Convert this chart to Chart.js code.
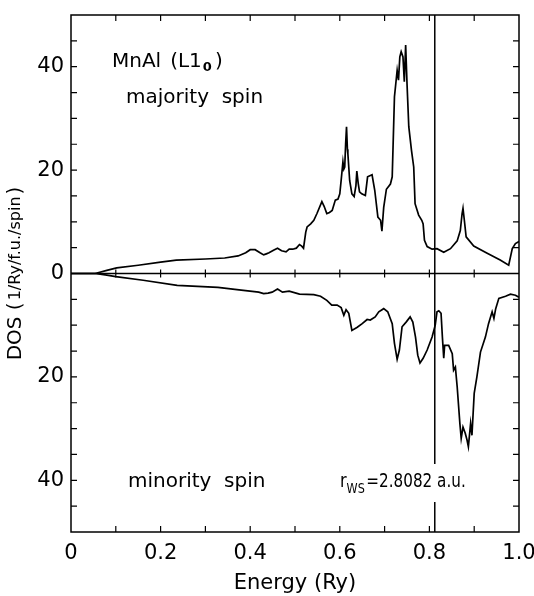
<!DOCTYPE html>
<html>
<head>
<meta charset="utf-8">
<script src="https://cdn.jsdelivr.net/npm/chart.js@4.4.1/dist/chart.umd.min.js"></script>
<style>
  html, body { margin: 0; padding: 0; background: #fff; }
  #wrap { width: 534px; height: 596px; }
</style>
</head>
<body>
<div id="wrap"><canvas id="dosChart" width="534" height="596"></canvas></div>
<script>
// Majority spin DOS
const energyMaj = [0, 0.054, 0.08, 0.102, 0.15, 0.2, 0.235, 0.3, 0.343, 0.373, 0.39, 0.4, 0.411, 0.422, 0.43, 0.436, 0.442, 0.452, 0.461, 0.47, 0.48, 0.487, 0.495, 0.503, 0.51, 0.515, 0.519, 0.524, 0.527, 0.535, 0.542, 0.549, 0.56, 0.565, 0.571, 0.577, 0.583, 0.59, 0.596, 0.6, 0.603, 0.607, 0.609, 0.611, 0.613, 0.615, 0.617, 0.618, 0.622, 0.627, 0.632, 0.636, 0.638, 0.641, 0.644, 0.649, 0.657, 0.662, 0.672, 0.678, 0.685, 0.691, 0.694, 0.698, 0.704, 0.713, 0.717, 0.722, 0.728, 0.731, 0.734, 0.737, 0.741, 0.744, 0.747, 0.75, 0.754, 0.76, 0.765, 0.768, 0.776, 0.783, 0.786, 0.789, 0.795, 0.806, 0.817, 0.832, 0.847, 0.862, 0.869, 0.873, 0.875, 0.878, 0.882, 0.899, 0.929, 0.958, 0.977, 0.985, 0.992, 1.0];
const dosMaj = [0, 0, 0.6, 1.1, 1.6, 2.2, 2.6, 2.8, 3.0, 3.4, 4.0, 4.6, 4.6, 4.0, 3.6, 3.8, 4.0, 4.5, 4.9, 4.4, 4.2, 4.7, 4.7, 4.9, 5.6, 5.3, 4.9, 8.0, 9.0, 9.6, 10.3, 11.6, 13.9, 13.0, 11.6, 11.8, 12.2, 14.2, 14.4, 15.4, 18.0, 21.6, 20.2, 20.6, 25.0, 28.4, 24.0, 23.2, 18.0, 15.4, 14.9, 17.0, 19.8, 17.5, 15.8, 15.4, 15.1, 18.7, 19.1, 16.1, 10.9, 10.3, 8.2, 12.8, 16.3, 17.3, 18.7, 34.2, 39.3, 37.4, 41.9, 42.9, 41.9, 37.1, 44.2, 36.8, 28.4, 23.8, 20.6, 13.5, 11.3, 10.3, 9.6, 6.4, 5.2, 4.7, 4.8, 4.1, 4.8, 6.3, 8.3, 11.6, 12.6, 10.3, 7.1, 5.3, 3.9, 2.6, 1.6, 4.8, 5.8, 6.2];

// Minority spin DOS (magnitude, drawn downwards)
const energyMin = [0, 0.054, 0.08, 0.1, 0.161, 0.237, 0.328, 0.38, 0.419, 0.43, 0.44, 0.449, 0.461, 0.472, 0.487, 0.51, 0.542, 0.557, 0.571, 0.582, 0.594, 0.603, 0.609, 0.614, 0.62, 0.627, 0.639, 0.65, 0.661, 0.668, 0.679, 0.687, 0.698, 0.707, 0.717, 0.722, 0.728, 0.733, 0.739, 0.748, 0.757, 0.763, 0.769, 0.774, 0.779, 0.786, 0.795, 0.806, 0.813, 0.817, 0.821, 0.826, 0.829, 0.832, 0.834, 0.843, 0.851, 0.854, 0.858, 0.862, 0.868, 0.871, 0.875, 0.88, 0.884, 0.887, 0.892, 0.895, 0.9, 0.906, 0.914, 0.925, 0.932, 0.94, 0.944, 0.948, 0.955, 0.97, 0.981, 0.992, 1.0];
const dosMin = [0, 0, 0.3, 0.6, 1.3, 2.3, 2.7, 3.2, 3.6, 3.9, 3.8, 3.6, 3.0, 3.6, 3.4, 4.0, 4.1, 4.4, 5.2, 6.1, 6.1, 6.6, 8.1, 7.0, 7.7, 11.0, 10.4, 9.7, 8.9, 9.0, 8.4, 7.4, 6.8, 7.4, 9.7, 13.5, 16.6, 14.8, 10.3, 9.4, 8.4, 9.4, 12.3, 15.8, 17.3, 16.4, 14.8, 12.3, 10.0, 7.4, 7.2, 7.7, 12.3, 16.4, 13.9, 13.9, 15.5, 18.7, 18.1, 21.9, 29.0, 31.9, 29.7, 30.9, 32.2, 33.5, 29.0, 31.3, 23.2, 20.0, 15.2, 12.3, 9.7, 7.4, 8.7, 6.8, 4.8, 4.4, 4.0, 4.2, 4.6];

const fermiEnergy = 0.812;
const xTickLabels = ['0', '0.2', '0.4', '0.6', '0.8', '1.0'];
const yLabelValues = [0, 20, 40];

const FONT = 'DejaVu Sans';

function toPoints(xs, ys, sign) {
  return xs.map((x, i) => ({ x: x, y: sign * ys[i] }));
}

// Frame, inward ticks, zero line and the text labels
const decorPlugin = {
  id: 'decor',
  afterDatasetsDraw(chart) {
    const ctx = chart.ctx;
    const xs = chart.scales.x;
    const ys = chart.scales.y;
    const area = chart.chartArea;
    const y0 = ys.getPixelForValue(0);
    const tick = 6;

    ctx.save();
    ctx.strokeStyle = '#000';
    ctx.lineWidth = 1.5;
    ctx.strokeRect(area.left, area.top, area.right - area.left, area.bottom - area.top);

    ctx.beginPath();
    ctx.moveTo(area.left, y0);
    ctx.lineTo(area.right, y0);
    ctx.stroke();

    ctx.lineWidth = 1.2;
    ctx.beginPath();
    for (let i = 1; i < 10; i++) {
      const px = xs.getPixelForValue(i / 10);
      ctx.moveTo(px, area.top); ctx.lineTo(px, area.top + tick);
      ctx.moveTo(px, area.bottom); ctx.lineTo(px, area.bottom - tick);
      ctx.moveTo(px, y0 - 4); ctx.lineTo(px, y0 + 4);
    }
    for (let v = -45; v <= 45; v += 5) {
      if (v === 0) continue;
      const py = ys.getPixelForValue(v);
      ctx.moveTo(area.left, py); ctx.lineTo(area.left + tick, py);
      ctx.moveTo(area.right, py); ctx.lineTo(area.right - tick, py);
    }
    ctx.stroke();

    ctx.fillStyle = '#000';
    ctx.textBaseline = 'alphabetic';
    ctx.textAlign = 'left';

    // MnAl (L1_0)
    let x = 112, y = 67;
    ctx.font = '20px ' + FONT;
    ctx.fillText('MnAl', x, y);
    x += ctx.measureText('MnAl').width + 9;
    ctx.fillText('(L1', x, y);
    x += ctx.measureText('(L1').width + 1;
    ctx.font = 'bold 13px ' + FONT;
    ctx.fillText('0', x, y + 4);
    x += ctx.measureText('0').width + 3;
    ctx.font = '20px ' + FONT;
    ctx.fillText(')', x, y);

    ctx.fillText('majority  spin', 126, 103);
    ctx.fillText('minority  spin', 128, 487);

    // r_WS label, gap in the Fermi line behind it
    ctx.fillStyle = '#fff';
    ctx.fillRect(338, 464, 140, 38);
    ctx.fillStyle = '#000';
    ctx.save();
    ctx.translate(340, 487);
    ctx.scale(0.8, 1);
    ctx.font = '20px ' + FONT;
    ctx.fillText('r', 0, 0);
    let w = ctx.measureText('r').width;
    ctx.font = '14px ' + FONT;
    ctx.fillText('WS', w, 6);
    w += ctx.measureText('WS').width + 2;
    ctx.font = '19px ' + FONT;
    ctx.fillText('=2.8082 a.u.', w, 0);
    ctx.restore();

    // y axis title with smaller unit text
    const cy = (area.top + area.bottom) / 2;
    ctx.save();
    ctx.translate(21, cy);
    ctx.rotate(-Math.PI / 2);
    const parts = [['DOS (', '20px '], ['1/Ry/f.u./spin', '16px '], [')', '20px ']];
    let total = 0;
    parts.forEach(p => { ctx.font = p[1] + FONT; total += ctx.measureText(p[0]).width; });
    total += 4;
    let tx = -total / 2;
    parts.forEach((p, i) => {
      ctx.font = p[1] + FONT;
      ctx.fillText(p[0], tx, i === 1 ? -1 : 0);
      tx += ctx.measureText(p[0]).width + (i === 0 || i === 1 ? 2 : 0);
    });
    ctx.restore();

    ctx.restore();
  }
};

new Chart(document.getElementById('dosChart'), {
  type: 'line',
  data: {
    datasets: [
      {
        label: 'majority spin',
        data: toPoints(energyMaj, dosMaj, 1),
        borderColor: '#000',
        borderWidth: 1.7,
        pointRadius: 0,
        tension: 0,
        fill: false
      },
      {
        label: 'minority spin',
        data: toPoints(energyMin, dosMin, -1),
        borderColor: '#000',
        borderWidth: 1.7,
        pointRadius: 0,
        tension: 0,
        fill: false
      },
      {
        label: 'E_F',
        data: [{ x: fermiEnergy, y: -50 }, { x: fermiEnergy, y: 50 }],
        borderColor: '#000',
        borderWidth: 1.5,
        pointRadius: 0,
        fill: false
      }
    ]
  },
  options: {
    responsive: false,
    animation: false,
    devicePixelRatio: 1,
    layout: { padding: { top: 15, right: 15, left: 0, bottom: 0 } },
    plugins: {
      legend: { display: false },
      tooltip: { enabled: false }
    },
    scales: {
      x: {
        type: 'linear',
        min: 0,
        max: 1,
        grid: { display: false, drawTicks: false },
        border: { display: false },
        ticks: {
          stepSize: 0.2,
          autoSkip: false,
          maxRotation: 0,
          padding: 9,
          color: '#000',
          font: { family: FONT, size: 21 },
          callback: (v) => xTickLabels[Math.round(v * 5)]
        },
        title: {
          display: true,
          text: 'Energy (Ry)',
          color: '#000',
          font: { family: FONT, size: 21 },
          padding: { top: 4, bottom: 0 }
        },
        afterFit: (scale) => {
          scale.height = 64;
          scale.paddingLeft = 0;
          scale.paddingRight = 0;
        }
      },
      y: {
        type: 'linear',
        min: -50,
        max: 50,
        grid: { display: false, drawTicks: false },
        border: { display: false },
        ticks: {
          stepSize: 10,
          autoSkip: false,
          padding: 7,
          color: '#000',
          font: { family: FONT, size: 21 },
          callback: (v) => yLabelValues.includes(Math.abs(v)) ? String(Math.abs(v)) : ''
        },
        afterFit: (scale) => {
          scale.width = 71;
          scale.paddingTop = 0;
          scale.paddingBottom = 0;
        }
      }
    }
  },
  plugins: [decorPlugin]
});
</script>
</body>
</html>
